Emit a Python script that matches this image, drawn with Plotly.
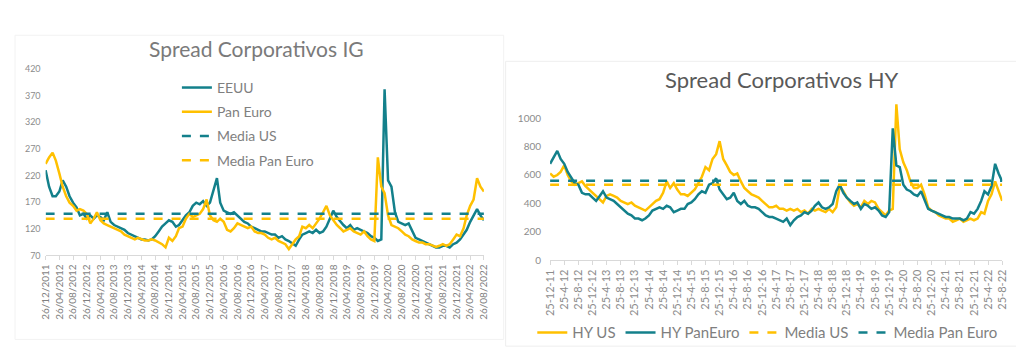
import pandas as pd
import plotly.graph_objects as go

# ---------------- IG data (monthly, from 26/12/2011 to 26/08/2022) ----------------
ig_dates = pd.date_range("2011-12-01", periods=129, freq="MS") + pd.Timedelta(days=25)
ig_eeuu = [
    230, 199, 181, 181, 190, 211, 199, 181, 169, 160, 145, 148,
    139, 145, 139, 145, 142, 136, 151, 133, 127, 124, 121, 118,
    112, 109, 106, 103, 100, 100, 98, 100, 106, 115, 124, 130,
    136, 133, 124, 127, 136, 145, 151, 163, 169, 166, 172, 163,
    169, 193, 215, 169, 154, 151, 148, 151, 145, 139, 133, 130,
    124, 121, 118, 115, 115, 112, 109, 109, 103, 106, 100, 97,
    92, 88, 100, 109, 112, 115, 112, 118, 112, 115, 124, 139,
    154, 142, 133, 127, 121, 127, 118, 121, 118, 115, 112, 106,
    103, 97, 100, 382, 211, 199, 151, 133, 130, 127, 130, 115,
    103, 100, 97, 94, 91, 88, 85, 85, 88, 88, 85, 91,
    94, 100, 109, 118, 133, 145, 157, 145, 136,
]
ig_paneuro = [
    242, 254, 263, 248, 224, 199, 181, 169, 163, 154, 157, 154,
    148, 130, 139, 151, 136, 130, 127, 124, 121, 118, 115, 109,
    106, 103, 100, 103, 100, 98, 98, 100, 98, 94, 91, 85,
    103, 97, 106, 121, 124, 139, 148, 142, 145, 148, 157, 175,
    145, 136, 133, 139, 133, 118, 115, 121, 130, 127, 124, 121,
    124, 115, 112, 112, 109, 103, 100, 103, 97, 94, 91, 82,
    91, 100, 106, 124, 121, 127, 121, 130, 139, 151, 163, 145,
    136, 127, 121, 115, 118, 121, 115, 112, 109, 115, 106, 100,
    97, 254, 199, 187, 145, 127, 124, 121, 115, 109, 106, 100,
    97, 94, 94, 91, 91, 88, 86, 88, 91, 88, 91, 100,
    109, 106, 121, 145, 163, 175, 215, 199, 190,
]
ig_media_us = 148
ig_media_paneuro = 139
ig_ticktext = [d.strftime("%d/%m/%Y") for d in ig_dates[::4]]

# ---------------- HY data (monthly, from 25-12-11 to 25-8-22) ----------------
hy_dates = pd.date_range("2011-12-01", periods=129, freq="MS") + pd.Timedelta(days=24)
hy_us = [
    610, 587, 599, 621, 667, 599, 554, 531, 542, 554, 520, 497,
    474, 452, 429, 406, 452, 463, 452, 440, 417, 406, 395, 406,
    383, 372, 361, 349, 372, 395, 417, 429, 474, 554, 508, 542,
    497, 463, 463, 452, 474, 497, 542, 587, 655, 633, 712, 746,
    837, 712, 667, 621, 599, 610, 554, 508, 485, 463, 452, 440,
    417, 395, 372, 372, 383, 361, 361, 349, 361, 349, 361, 338,
    349, 327, 361, 349, 361, 349, 338, 361, 338, 372, 520, 485,
    440, 406, 383, 395, 372, 417, 395, 417, 406, 361, 338, 315,
    349, 361, 1097, 780, 689, 633, 554, 508, 508, 531, 463, 372,
    349, 338, 315, 304, 293, 293, 270, 281, 293, 270, 281, 293,
    281, 293, 338, 327, 417, 463, 554, 485, 417,
]
hy_paneuro = [
    678, 723, 769, 712, 678, 621, 576, 542, 531, 474, 463, 463,
    440, 417, 452, 485, 440, 429, 417, 395, 372, 349, 327, 315,
    293, 293, 281, 293, 315, 349, 361, 372, 361, 383, 372, 338,
    349, 361, 361, 395, 406, 429, 463, 485, 474, 531, 542, 576,
    497, 463, 429, 440, 474, 417, 395, 417, 383, 372, 372, 361,
    338, 315, 304, 304, 293, 281, 270, 293, 247, 281, 304, 315,
    338, 327, 349, 383, 406, 372, 361, 372, 395, 485, 531, 474,
    440, 417, 395, 406, 361, 395, 383, 361, 372, 349, 315, 304,
    338, 927, 667, 655, 531, 497, 485, 463, 452, 485, 417, 361,
    349, 338, 327, 315, 304, 304, 293, 293, 293, 281, 293, 338,
    327, 361, 417, 485, 463, 520, 678, 610, 553,
]
hy_media_us = 531
hy_media_paneuro = 558
hy_ticktext = ["%d-%d-%s" % (d.day, d.month, d.strftime("%y")) for d in hy_dates[::4]]

TEAL = "#13808b"
YELLOW = "#ffc000"
GREY = "#7f7f7f"
FONT = "Lato"

fig = go.Figure()

# ---- IG traces ----
fig.add_trace(go.Scatter(x=ig_dates, y=ig_eeuu, name="EEUU", mode="lines",
                         line=dict(color=TEAL, width=2.5), xaxis="x", yaxis="y",
                         legend="legend", legendgroup="a"))
fig.add_trace(go.Scatter(x=ig_dates, y=ig_paneuro, name="Pan Euro", mode="lines",
                         line=dict(color=YELLOW, width=2.5), xaxis="x", yaxis="y",
                         legend="legend", legendgroup="b"))
fig.add_trace(go.Scatter(x=[ig_dates[0], ig_dates[-1]], y=[ig_media_us] * 2, name="Media US",
                         mode="lines", line=dict(color=TEAL, width=2.5, dash="dash"),
                         xaxis="x", yaxis="y", legend="legend", legendgroup="c"))
fig.add_trace(go.Scatter(x=[ig_dates[0], ig_dates[-1]], y=[ig_media_paneuro] * 2, name="Media Pan Euro",
                         mode="lines", line=dict(color=YELLOW, width=2.5, dash="dash"),
                         xaxis="x", yaxis="y", legend="legend", legendgroup="d"))

# ---- HY traces ----
fig.add_trace(go.Scatter(x=hy_dates, y=hy_us, name="HY US", mode="lines",
                         line=dict(color=YELLOW, width=2.5), xaxis="x2", yaxis="y2",
                         legend="legend2"))
fig.add_trace(go.Scatter(x=hy_dates, y=hy_paneuro, name="HY PanEuro", mode="lines",
                         line=dict(color=TEAL, width=2.5), xaxis="x2", yaxis="y2",
                         legend="legend2"))
fig.add_trace(go.Scatter(x=[hy_dates[0], hy_dates[-1]], y=[hy_media_us] * 2, name="Media US",
                         mode="lines", line=dict(color=YELLOW, width=2.5, dash="dash"),
                         xaxis="x2", yaxis="y2", legend="legend2"))
fig.add_trace(go.Scatter(x=[hy_dates[0], hy_dates[-1]], y=[hy_media_paneuro] * 2, name="Media Pan Euro",
                         mode="lines", line=dict(color=TEAL, width=2.5, dash="dash"),
                         xaxis="x2", yaxis="y2", legend="legend2"))

# The page body has an 8px margin, so the figure starts at screen (8, 8).
OFF = 8
W, H = 1024 - OFF, 356 - OFF


def px(x):
    return (x - OFF) / W


def py(y):
    return 1 - (y - OFF) / H


fig.update_layout(
    width=W, height=H,
    margin=dict(l=0, r=0, t=0, b=0),
    paper_bgcolor="white", plot_bgcolor="white",
    font=dict(family=FONT, color=GREY),
    xaxis=dict(domain=[px(39), px(483)], anchor="y", type="date",
               range=[ig_dates[0], ig_dates[-1]],
               tickmode="array", tickvals=list(ig_dates[::4]), ticktext=ig_ticktext,
               tickangle=-90, showline=True, linecolor="#d9d9d9", ticks="outside",
               tickcolor="#d9d9d9", ticklen=4, showgrid=False, zeroline=False,
               tickfont=dict(family=FONT, size=10, color=GREY)),
    yaxis=dict(domain=[py(258), py(65)], anchor="x", range=[70, 420], dtick=50, tick0=70,
               showline=False, ticklabelstandoff=4, showgrid=False, zeroline=False,
               tickfont=dict(family=FONT, size=9, color="#8c8c8c")),
    xaxis2=dict(domain=[px(550), px(1008)], anchor="y2", type="date",
                range=[hy_dates[0], hy_dates[-1]],
                tickmode="array", tickvals=list(hy_dates[::4]), ticktext=hy_ticktext,
                tickangle=-90, showline=True, linecolor="#d9d9d9", ticks="outside",
                tickcolor="#d9d9d9", ticklen=4, showgrid=False, zeroline=False,
                tickfont=dict(family=FONT, size=11, color="#8c8c8c")),
    yaxis2=dict(domain=[py(263), py(101)], anchor="x2", range=[0, 1100], dtick=200, tick0=0,
                showline=False, ticklabelstandoff=8, showgrid=False, zeroline=False,
                tickfont=dict(family=FONT, size=10, color="#8c8c8c")),
    legend=dict(x=px(172), y=py(68), xanchor="left", yanchor="top",
                font=dict(family=FONT, size=14, color=GREY), bgcolor="rgba(0,0,0,0)",
                tracegroupgap=3, traceorder="grouped"),
    legend2=dict(orientation="h", x=px(532), y=py(321), xanchor="left", yanchor="top",
                 font=dict(family=FONT, size=15, color=GREY), bgcolor="rgba(0,0,0,0)"),
    annotations=[
        dict(text="Spread Corporativos IG", x=px(253), y=py(44), xref="paper", yref="paper",
             xanchor="center", yanchor="middle", showarrow=False,
             font=dict(family=FONT, size=21, color="#7a7a7a")),
        dict(text="Spread Corporativos HY", x=px(784), y=py(76), xref="paper", yref="paper",
             xanchor="center", yanchor="middle", showarrow=False,
             font=dict(family=FONT, size=22, color="#595959")),
    ],
    shapes=[
        dict(type="rect", xref="paper", yref="paper", x0=0, x1=px(503), y0=py(345), y1=py(30),
             line=dict(color="#f2f2f2", width=1), layer="below"),
        dict(type="rect", xref="paper", yref="paper", x0=px(505), x1=1, y0=py(352), y1=py(57),
             line=dict(color="#eeeeee", width=1), layer="below"),
    ],
)

fig.write_html("out.html")
